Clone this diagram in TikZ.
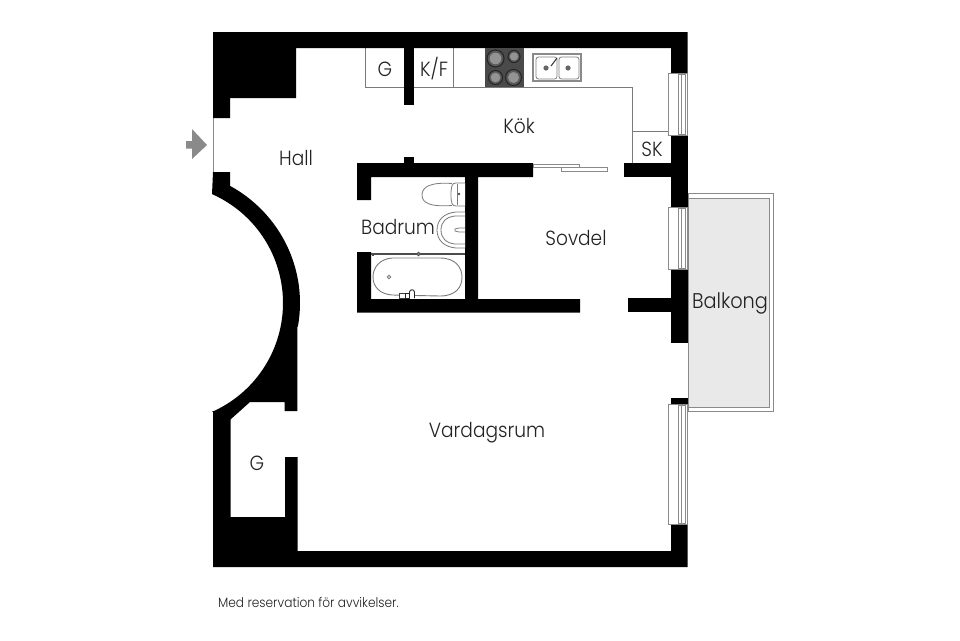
\documentclass[tikz,border=0pt]{standalone}
\usepackage{fontspec}
\setmainfont{Poppins}[UprightFont=* Light,FakeStretch=0.907]
\definecolor{linegray}{HTML}{7A7A7A}
\definecolor{wingray}{HTML}{8A8A8A}
\definecolor{balfill}{HTML}{E9E9E9}
\definecolor{stovegray}{HTML}{4A4A4A}
\definecolor{txt}{HTML}{222222}
\tikzset{
  wallfill/.style={fill=black,draw=none},
  fixture/.style={draw=linegray,line width=0.8pt},
  winline/.style={draw=wingray,line width=1pt,fill=white},
  lab/.style={text=txt,font=\fontsize{20.5}{24}\selectfont,inner sep=0pt,anchor=base},
  burner/.style={fill=stovegray!70!gray,draw=black!85,line width=1.1pt},
  burnerc/.style={fill=gray!85,draw=none}
}
\begin{document}
\begin{tikzpicture}[x=1pt,y=-1pt]
\useasboundingbox[fill=white] (0,0) rectangle (960,640);
% balcony
\draw[draw=wingray,line width=1pt] (688,193.5) rectangle (773.5,411);
\draw[draw=wingray,line width=1pt,fill=balfill] (688,198) rectangle (769,407);
% counter lines
\draw[fixture] (365,48) -- (365,87) -- (632,87) -- (632,163);
\draw[fixture] (453,48) -- (453,87);
\draw[fixture] (632,131) -- (668,131);
% outer walls
\fill[wallfill] (213,32) -- (687.5,32) -- (687.5,73) -- (671,73) -- (671,48) -- (296,48) -- (296,98) -- (230,98) -- (230,118) -- (213,118) -- cycle;
\fill[wallfill] (671,135) -- (688,135) -- (688,207) -- (671,207) -- cycle;
\fill[wallfill] (671,269) -- (688,269) -- (688,343) -- (671,343) -- cycle;
\fill[wallfill] (671,398) -- (688,398) -- (688,404) -- (671,404) -- cycle;
\fill[wallfill] (671,523) -- (687.5,523) -- (687.5,567) -- (213,567) -- (213,411)
  -- plot[domain=66.2:0,samples=40] ({164+119*cos(\x)},{303+119*sin(\x)})
  -- plot[domain=0:-66.2,samples=40] ({164+119*cos(\x)},{303+119*sin(\x)})
  -- (213,172) -- (230,172) -- (230,186)
  -- plot[domain=-60.5:10,samples=40] ({164+136*cos(\x)},{303+134*sin(\x)})
  -- (297.3,327) -- (297.3,411) -- (284.5,411) -- (284.5,402) -- (250,402) -- (230.5,419.5) -- (230.5,517) -- (285,517) -- (285,457) -- (297.5,457) -- (297.5,551) -- (671,551) -- cycle;
% interior walls
\fill[wallfill] (404,48) rectangle (414,105);
\fill[wallfill] (404,157) rectangle (414,164);
\fill[wallfill] (357,163) -- (533,163) -- (533,177) -- (478,177) -- (478,299) -- (580,299) -- (580,312.5) -- (357,312.5) -- (357,252) -- (371,252) -- (371,299) -- (465,299) -- (465,177) -- (371,177) -- (371,200) -- (357,200) -- cycle;
\fill[wallfill] (624,163) rectangle (671,177);
\fill[wallfill] (628,298) rectangle (671,312);
% entrance
\draw[draw=wingray,line width=1pt] (213.5,118) -- (213.5,172);
\fill[fill=wingray] (186,141) -- (192,141) -- (192,129) -- (207,145) -- (192,159) -- (192,148.5) -- (186,148.5) -- cycle;
% windows
\foreach \a/\b in {73/135,207/269,404/524}{
  \draw[winline] (668,\a) rectangle (687.5,\b);
  \draw[draw=wingray,line width=0.8pt] (678,\a+1) rectangle (685,\b-1);
  \draw[draw=wingray,line width=0.6pt] (681.5,\a+1) -- (681.5,\b-1);
}
% sliding doors
\draw[draw=wingray,line width=0.9pt,fill=white] (533,164.5) rectangle (579,167.5);
\draw[draw=wingray,line width=0.9pt,fill=white] (561,167.5) rectangle (607,171);
% stove
\fill[stovegray] (485,48) rectangle (524,87);
\foreach \cx/\cy/\r in {495.5/58.5/8.5,514/56.5/6,495.5/77.5/7,513.5/77.5/8}{
  \draw[burner] (\cx,\cy) circle[radius=\r];
  \fill[burnerc] (\cx,\cy) circle[radius=\r*0.68];
}
% sink
\fill[wingray] (532,53) rectangle (582,82);
\fill[white] (534,55) rectangle (580,80);
\draw[draw=gray,line width=0.8pt,rounded corners=2.5pt] (536,57) rectangle (557,79);
\draw[draw=gray,line width=0.8pt,rounded corners=2.5pt] (559,57) rectangle (579,79);
\fill[gray!80!black] (546,68) circle[radius=2.6];
\fill[gray!80!black] (568,68) circle[radius=2.6];
\draw[draw=black!75,line width=1.1pt] (557,58) -- (551,66);
% toilet
\draw[fixture,fill=white] (452,183.5) .. controls (430,182) and (422,187) .. (422,195) .. controls (422,203) and (430,207) .. (452,205.5);
\draw[fixture,fill=white] (465,183) -- (456,183) .. controls (452,183) and (451,186) .. (451,195) .. controls (451,203) and (452,206) .. (456,206) -- (465,206);
\draw[fixture] (457,184) -- (457,205);
\fill[black!70] (459,194) circle[radius=1.3];
% basin
\draw[fixture,fill=white] (465,212) -- (456,212) .. controls (444,213) and (437,220) .. (437,230) .. controls (437,240) and (444,247) .. (456,248) -- (465,248);
\draw[fixture] (465,216) -- (455,216) .. controls (446,217) and (441,222) .. (441,230) .. controls (441,238) and (446,243) .. (455,244) -- (465,244);
\draw[fixture] (465,228) -- (459,228) -- (455,229) -- (455,231) -- (459,232) -- (465,232);
% shower line
\draw[draw=black!70,line width=1.3pt] (371,254) -- (465,254);
\fill[black!70] (372,252.5) rectangle (374,255.5);
\draw[draw=black!70,fill=gray,line width=0.6pt] (418.5,254) circle[radius=1.9];
% bath
\draw[fixture,fill=white,line width=0.9pt] (392,258) -- (440,258) .. controls (456,258) and (462,268) .. (462,277) .. controls (462,287) and (456,296) .. (440,296) -- (392,295) .. controls (380,294) and (373,287) .. (373,277) .. controls (373,267) and (380,259) .. (392,258) -- cycle;
\draw[fixture] (389,277) circle[radius=1.8];
\draw[draw=black!75,line width=0.7pt,fill=white] (399,293) rectangle (405,298);
\draw[draw=black!85,line width=0.9pt,fill=white] (405,293) rectangle (409,298);
\draw[draw=black!85,line width=0.9pt,fill=white] (409.5,298) -- (409.5,292) .. controls (410,289) and (414,289) .. (414.5,292) -- (414.5,298);
% labels
\node[lab] (hall) at (296,165) {Hall};
\node[lab] (kok) at (519,133) {Kök};
\node[lab] (g1) at (385,76) {G};
\node[lab] (kf) at (434,76) {K/F};
\node[lab] (sk) at (652,156) {SK};
\node[lab] (badrum) at (398,234.5) {Badrum};
\node[lab] (sovdel) at (576,245.5) {Sovdel};
\node[lab,font=\fontsize{21.3}{24}\selectfont] (balkong) at (730,308) {Balkong};
\node[lab] (vardagsrum) at (487,437.5) {Vardagsrum};
\node[lab] (g2) at (257,470.5) {G};
\node[text=txt,font=\fontsize{13.4}{15}\selectfont,inner sep=0pt,anchor=base west] (note) at (218,607.5) {Med reservation för avvikelser.};
\end{tikzpicture}
\end{document}
